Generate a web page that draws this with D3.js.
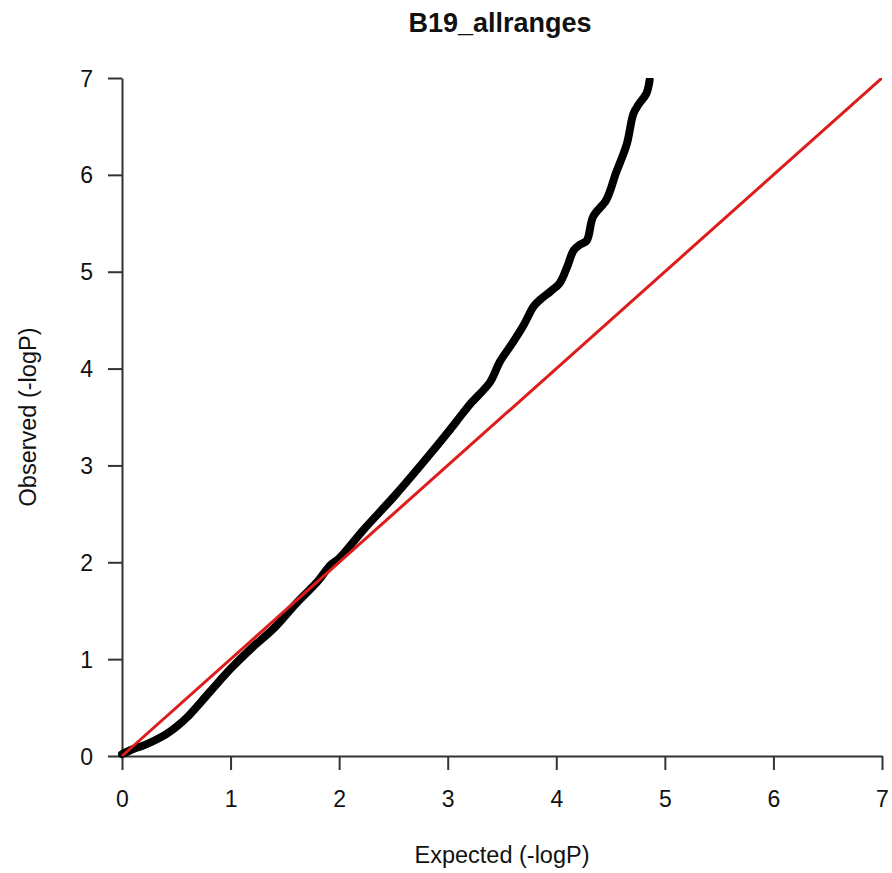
<!DOCTYPE html>
<html>
<head>
<meta charset="utf-8">
<script src="https://cdn.jsdelivr.net/npm/d3@7"></script>
<style>
  body { margin: 0; background: #fff; }
  svg { display: block; }
</style>
</head>
<body>
<svg id="chart" width="892" height="873"></svg>
<script>
// QQ plot values
const expected = [0, 0.1, 0.2, 0.3, 0.4, 0.5, 0.6, 0.8, 1.0, 1.2, 1.4, 1.6, 1.8, 1.92, 2.0, 2.22,
  2.53, 2.84, 3.0, 3.14, 3.22, 3.39, 3.48, 3.6, 3.7, 3.79, 3.85, 3.95, 4.03, 4.1, 4.16, 4.22,
  4.28, 4.34, 4.46, 4.55, 4.65, 4.71, 4.76, 4.83, 4.86];
const observed = [0.02, 0.07, 0.11, 0.16, 0.22, 0.3, 0.4, 0.65, 0.9, 1.12, 1.32, 1.57, 1.8, 1.97, 2.04, 2.33,
  2.71, 3.12, 3.34, 3.54, 3.65, 3.86, 4.07, 4.27, 4.45, 4.64, 4.71, 4.8, 4.88, 5.05, 5.22, 5.28,
  5.32, 5.57, 5.74, 6.02, 6.32, 6.63, 6.73, 6.84, 6.98];
const xTicks = [0, 1, 2, 3, 4, 5, 6, 7];
const yTicks = [0, 1, 2, 3, 4, 5, 6, 7];
const refLine = [[0, 0], [7, 7]];

const width = 892;
const height = 873;
const margin = { top: 78, right: 10, bottom: 117, left: 122 };
const font = "'Liberation Sans', Arial, Helvetica, sans-serif";

const data = expected.map((e, i) => ({ x: e, y: observed[i] }));

const x = d3.scaleLinear().domain([0, 7]).range([margin.left, width - margin.right]);
const y = d3.scaleLinear().domain([0, 7]).range([height - margin.bottom, margin.top]);

const svg = d3.select("#chart");

svg.append("rect")
  .attr("width", width)
  .attr("height", height)
  .attr("fill", "#ffffff");

svg.append("clipPath")
  .attr("id", "plotClip")
  .append("rect")
  .attr("x", x(0) - 6)
  .attr("y", y(7))
  .attr("width", x(7) - x(0) + 6)
  .attr("height", y(0) - y(7) + 6);

// axes
const xAxis = svg.append("g")
  .attr("transform", `translate(0,${y(0)})`)
  .call(d3.axisBottom(x).tickValues(xTicks).tickFormat(d3.format("d")).tickSize(14).tickSizeOuter(0));

const yAxis = svg.append("g")
  .attr("transform", `translate(${x(0)},0)`)
  .call(d3.axisLeft(y).tickValues(yTicks).tickFormat(d3.format("d")).tickSize(14).tickSizeOuter(0));

[xAxis, yAxis].forEach((g) => {
  g.select(".domain").attr("stroke", "#333").attr("stroke-width", 2);
  g.selectAll(".tick line").attr("stroke", "#333").attr("stroke-width", 2);
  g.selectAll(".tick text")
    .attr("font-family", font)
    .attr("font-size", 23)
    .attr("fill", "#111");
});

xAxis.selectAll(".tick text").attr("y", 51).attr("dy", 0);
yAxis.selectAll(".tick text").attr("x", -29).attr("dy", "0.35em");

// observed curve
const plot = svg.append("g").attr("clip-path", "url(#plotClip)");

plot.append("path")
  .datum(data)
  .attr("fill", "none")
  .attr("stroke", "#000")
  .attr("stroke-width", 8)
  .attr("stroke-linejoin", "round")
  .attr("stroke-linecap", "round")
  .attr("d", d3.line().x((d) => x(d.x)).y((d) => y(d.y)).curve(d3.curveCatmullRom));

// expected line y = x
plot.append("path")
  .datum(refLine)
  .attr("fill", "none")
  .attr("stroke", "#dd1c1c")
  .attr("stroke-width", 3)
  .attr("d", d3.line().x((d) => x(d[0])).y((d) => y(d[1])));

// titles
svg.append("text")
  .attr("x", 500)
  .attr("y", 32)
  .attr("text-anchor", "middle")
  .attr("font-family", font)
  .attr("font-size", 27)
  .attr("font-weight", "bold")
  .attr("fill", "#111")
  .text("B19_allranges");

svg.append("text")
  .attr("x", (x(0) + x(7)) / 2)
  .attr("y", 863)
  .attr("text-anchor", "middle")
  .attr("font-family", font)
  .attr("font-size", 23.5)
  .attr("fill", "#111")
  .text("Expected (-logP)");

svg.append("text")
  .attr("transform", `translate(36,${(y(0) + y(7)) / 2}) rotate(-90)`)
  .attr("text-anchor", "middle")
  .attr("font-family", font)
  .attr("font-size", 23.5)
  .attr("fill", "#111")
  .text("Observed (-logP)");
</script>
</body>
</html>
